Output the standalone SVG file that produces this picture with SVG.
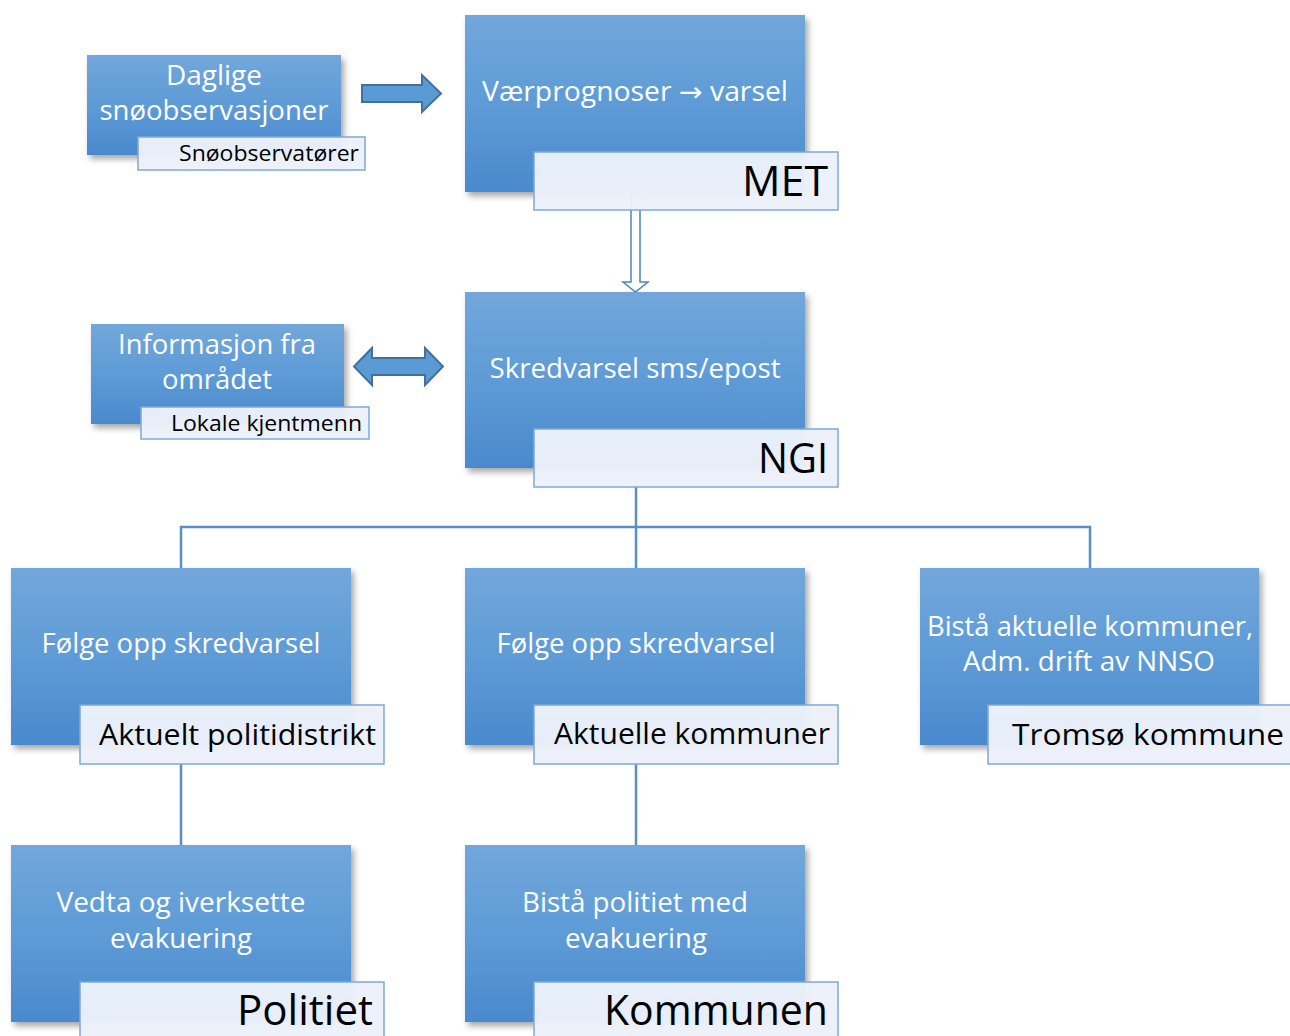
<svg xmlns="http://www.w3.org/2000/svg" width="1290" height="1036" viewBox="0 0 1290 1036">
<defs>
<linearGradient id="blue" x1="0" y1="0" x2="0" y2="1">
<stop offset="0" stop-color="#72a7db"/>
<stop offset="0.5" stop-color="#5e9bd6"/>
<stop offset="1" stop-color="#4a89cd"/>
</linearGradient>
<filter id="shadow" x="-10%" y="-10%" width="125%" height="130%">
<feDropShadow dx="3" dy="4" stdDeviation="3" flood-color="#000" flood-opacity="0.35"/>
</filter>
<style>
.box{fill:url(#blue);filter:url(#shadow);}
.lab{fill:#ecf2fa;fill-opacity:0.97;stroke:#7fa8da;stroke-width:1.5;}
.wt{font-family:"Open Sans","Noto Sans","DejaVu Sans",sans-serif;fill:#ffffff;font-size:27px;text-anchor:middle;}
.bt{font-family:"Open Sans","Noto Sans","DejaVu Sans",sans-serif;fill:#000000;text-anchor:end;}
.s{font-size:22px;}
.m{font-size:30px;}
.l{font-size:42px;}
.con{fill:none;stroke:#5b8ec8;stroke-width:2.5;}
.blk{fill:#5b9bd5;stroke:#41719c;stroke-width:2;}
</style>
</defs>
<g id="connectors">
<path class="con" d="M636,487 V527 M181,568 V527 H1090 V568 M636,527 V568"/>
<path class="con" d="M181,764 V845 M636,764 V845"/>
<path d="M631,192 V282 H623 L635.5,292 L648,282 H640 V192 Z" fill="#ffffff" stroke="#4f81bd" stroke-width="1.5"/>
<path class="blk" d="M362,85 H422 V75 L441,93.5 L422,112 V102 H362 Z"/>
<path class="blk" d="M354,366.5 L372,348 V358 H425 V348 L443,366.5 L425,385 V375 H372 V385 Z"/>
</g>
<g id="node-daglige">
<rect class="box" x="87" y="55" width="254" height="100"/>
<text class="wt" x="214" y="85" textLength="96" lengthAdjust="spacingAndGlyphs">Daglige</text>
<text class="wt" x="214" y="120" textLength="229" lengthAdjust="spacingAndGlyphs">snøobservasjoner</text>
<rect class="lab" x="138" y="137" width="227" height="33"/>
<text class="bt s" x="359" y="161" textLength="180" lengthAdjust="spacingAndGlyphs">Snøobservatører</text>
</g>
<g id="node-met">
<rect class="box" x="465" y="15" width="340" height="177"/>
<text class="wt" x="635" y="101" textLength="306" lengthAdjust="spacingAndGlyphs">Værprognoser → varsel</text>
<rect class="lab" x="534" y="152" width="304" height="58"/>
<text class="bt l" x="828" y="196" textLength="86" lengthAdjust="spacingAndGlyphs">MET</text>
</g>
<g id="node-info">
<rect class="box" x="91" y="324" width="253" height="100"/>
<text class="wt" x="217" y="354" textLength="198" lengthAdjust="spacingAndGlyphs">Informasjon fra</text>
<text class="wt" x="217" y="389" textLength="110" lengthAdjust="spacingAndGlyphs">området</text>
<rect class="lab" x="141" y="407" width="228" height="32"/>
<text class="bt s" x="362" y="431" textLength="191" lengthAdjust="spacingAndGlyphs">Lokale kjentmenn</text>
</g>
<g id="node-ngi">
<rect class="box" x="465" y="292" width="340" height="176"/>
<text class="wt" x="635" y="378" textLength="291" lengthAdjust="spacingAndGlyphs">Skredvarsel sms/epost</text>
<rect class="lab" x="534" y="429" width="304" height="58"/>
<text class="bt l" x="828" y="473" textLength="70" lengthAdjust="spacingAndGlyphs">NGI</text>
</g>
<g id="node-politidistrikt">
<rect class="box" x="11" y="568" width="340" height="177"/>
<text class="wt" x="181" y="653" textLength="279" lengthAdjust="spacingAndGlyphs">Følge opp skredvarsel</text>
<rect class="lab" x="80" y="705" width="304" height="59"/>
<text class="bt m" x="376" y="745" textLength="277" lengthAdjust="spacingAndGlyphs">Aktuelt politidistrikt</text>
</g>
<g id="node-kommuner">
<rect class="box" x="465" y="568" width="340" height="177"/>
<text class="wt" x="636" y="653" textLength="279" lengthAdjust="spacingAndGlyphs">Følge opp skredvarsel</text>
<rect class="lab" x="534" y="705" width="304" height="59"/>
<text class="bt m" x="830" y="744" textLength="276" lengthAdjust="spacingAndGlyphs">Aktuelle kommuner</text>
</g>
<g id="node-tromso">
<rect class="box" x="920" y="568" width="339" height="177"/>
<text class="wt" x="1090" y="636" textLength="326" lengthAdjust="spacingAndGlyphs">Bistå aktuelle kommuner,</text>
<text class="wt" x="1089" y="671" textLength="252" lengthAdjust="spacingAndGlyphs">Adm. drift av NNSO</text>
<rect class="lab" x="988" y="705" width="310" height="59"/>
<text class="bt m" x="1284" y="745" textLength="272" lengthAdjust="spacingAndGlyphs">Tromsø kommune</text>
</g>
<g id="node-politiet">
<rect class="box" x="11" y="845" width="340" height="177"/>
<text class="wt" x="181" y="912" textLength="249" lengthAdjust="spacingAndGlyphs">Vedta og iverksette</text>
<text class="wt" x="181" y="948" textLength="142" lengthAdjust="spacingAndGlyphs">evakuering</text>
<rect class="lab" x="80" y="982" width="304" height="60"/>
<text class="bt l" x="373" y="1025" textLength="136" lengthAdjust="spacingAndGlyphs">Politiet</text>
</g>
<g id="node-kommunen">
<rect class="box" x="465" y="845" width="340" height="177"/>
<text class="wt" x="635" y="912" textLength="226" lengthAdjust="spacingAndGlyphs">Bistå politiet med</text>
<text class="wt" x="636" y="948" textLength="142" lengthAdjust="spacingAndGlyphs">evakuering</text>
<rect class="lab" x="534" y="982" width="304" height="60"/>
<text class="bt l" x="828" y="1025" textLength="224" lengthAdjust="spacingAndGlyphs">Kommunen</text>
</g>
</svg>
